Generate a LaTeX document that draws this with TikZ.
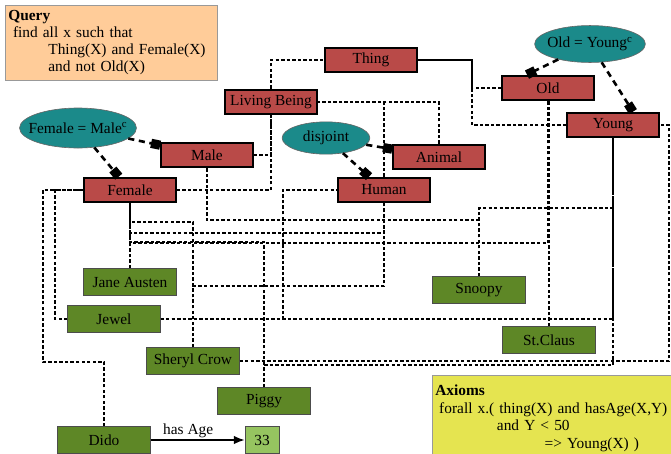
\documentclass[tikz,border=0pt]{standalone}
\usepackage{fontspec}
\setmainfont{Liberation Serif}
\usetikzlibrary{arrows.meta, shapes.geometric, calc}
\definecolor{conceptred}{RGB}{185,74,72}
\definecolor{eqteal}{RGB}{27,138,138}
\definecolor{instgreen}{RGB}{94,135,38}
\definecolor{valgreen}{RGB}{150,196,96}
\definecolor{queryorange}{RGB}{255,204,153}
\definecolor{axiomyellow}{RGB}{229,228,80}
\newcommand{\nowidth}[1]{\makebox[0pt]{#1}}
\tikzset{
    concept/.style={
        rectangle, draw=black, fill=conceptred, line width=1.4pt,
        minimum width=59.5pt, minimum height=16pt, inner sep=0pt
    },
    instance/.style={
        rectangle, draw=black!70, fill=instgreen, line width=0.5pt,
        minimum width=60pt, minimum height=17.5pt, inner sep=0pt
    },
    value/.style={instance, fill=valgreen, minimum width=22pt},
    equiv/.style={
        ellipse, draw=black!60, fill=eqteal, inner sep=0pt
    },
    note/.style={
        rectangle, draw=black!40, anchor=north west, align=left,
        inner xsep=2pt, inner ysep=3pt
    },
    link/.style={line width=1.6pt, dash pattern=on 2.2pt off 1.4pt},
    eqarrow/.style={-{Square[length=6pt,width=6pt]}, line width=1.7pt,
        dash pattern=on 4pt off 3pt},
    hasage/.style={-{Latex[length=7pt,width=5.5pt]}, line width=1.1pt}
}

\begin{document}
\begin{tikzpicture}[x=0.65pt, y=-0.65pt, font=\fontsize{10}{11}\selectfont]
    \useasboundingbox (0,0) rectangle (671,453);
    \clip (0,0) rectangle (671,453);

    \node[note, fill=queryorange, text width=134pt, minimum height=48.75pt] (query) at (5,5)
        {\textbf{Query}\\\hspace*{3pt}find all x such that\\\hspace*{26pt}Thing(X) and Female(X)\\\hspace*{26pt}and not Old(X)};
    \node[note, fill=axiomyellow, text width=160pt, minimum height=56pt,
        font=\fontsize{10}{11.4}\selectfont] (axioms) at (432,375)
        {\textbf{Axioms}\\\hspace*{2.5pt}forall x.( thing(X) and hasAge(X,Y)\\\hspace*{40pt}and Y < 50\\\hspace*{71pt}=> Young(X) )};

    \node[concept] (thing) at (371,60) {Thing};
    \node[concept] (lb) at (271,102) {Living Being};
    \node[concept] (old) at (548,88) {Old};
    \node[concept] (young) at (613,125) {Young};
    \node[concept] (male) at (207,155) {Male};
    \node[concept] (female) at (130,190) {Female};
    \node[concept] (animal) at (439,157) {Animal};
    \node[concept] (human) at (384,190) {Human};

    \node[equiv, minimum width=72pt, minimum height=24pt] (oy) at (590,44) {\nowidth{Old = Young\textsuperscript{c}}};
    \node[equiv, minimum width=76pt, minimum height=26pt] (fm) at (78,128) {\nowidth{Female = Male\textsuperscript{c}}};
    \node[equiv, minimum width=57pt, minimum height=21pt] (dis) at (326,138) {\nowidth{disjoint}};

    \node[instance] (jane) at (130,282) {Jane Austen};
    \node[instance] (jewel) at (114,319) {Jewel};
    \node[instance] (sheryl) at (193,361) {Sheryl Crow};
    \node[instance] (piggy) at (264,401) {Piggy};
    \node[instance] (dido) at (104,440) {Dido};
    \node[value] (age) at (262,440) {33};
    \node[instance] (snoopy) at (479,290) {Snoopy};
    \node[instance] (claus) at (549,340) {St.Claus};

    \coordinate (tlane) at (472,60);
    \coordinate (wlane) at (43,190);
    \coordinate (jlane) at (55,190);
    \coordinate (hlane) at (283,190);
    \coordinate (elane) at (669,125);

    \draw[link] (lb.north) |- (thing.west);
    \draw[link] (old.west) -| (tlane) -- (thing.east);
    \draw[link] (young.west) -| (tlane) -- (thing.east);
    \draw[link] (male.east) -| (lb.south);
    \draw[link] (female.east) -| (lb.south);
    \draw[link] (human.north) |- (lb.east);
    \draw[link] (animal.north) |- (lb.east);

    % instances hang below their concepts, lanes offset so they stay apart
    \draw[link] (jane) -- (female);
    \draw[link] (jane.north) -- ++(0,-35) -| (human.south);
    \draw[link] (jane.north) -- ++(0,-25) -| (old.south);
    \draw[link] (jewel.west) -| (jlane) -- (female.west);
    \draw[link] (jewel.east) -| (hlane) -- (human.west);
    \draw[link] (jewel.east) -| (young.south);
    \draw[link] (sheryl.north) -- ++(0,-125) -| (female.south);
    \draw[link] (sheryl.north) -- ++(0,-61) -| (human.south);
    \draw[link] (sheryl.east) -| (elane) -- (young.east);
    \draw[link] (piggy.north) -- ++(0,-145) -| (female.south);
    \draw[link] (piggy.north) -- ++(0,-22) -| (young.south);
    \draw[link] (dido.north) -- ++(0,-64) -| (wlane) -- (female.west);
    \draw[link] (snoopy.north) -- ++(0,-56) -| (male.south);
    \draw[link] (snoopy.north) -- ++(0,-68) -| (young.south);
    \draw[link] (claus.north) -- (claus.north |- old.south);

    \draw[eqarrow] (fm) -- (male);
    \draw[eqarrow] (fm) -- (female);
    \draw[eqarrow] (dis) -- (animal);
    \draw[eqarrow] (dis) -- (human);
    \draw[eqarrow] (oy) -- ($(old.north)+(-21,0)$);
    \draw[eqarrow] (oy) -- ($(young.north)+(20,0)$);

    \draw[hasage] (dido) -- node[above, pos=0.4, inner sep=1pt] {has Age} (age);
\end{tikzpicture}
\end{document}
